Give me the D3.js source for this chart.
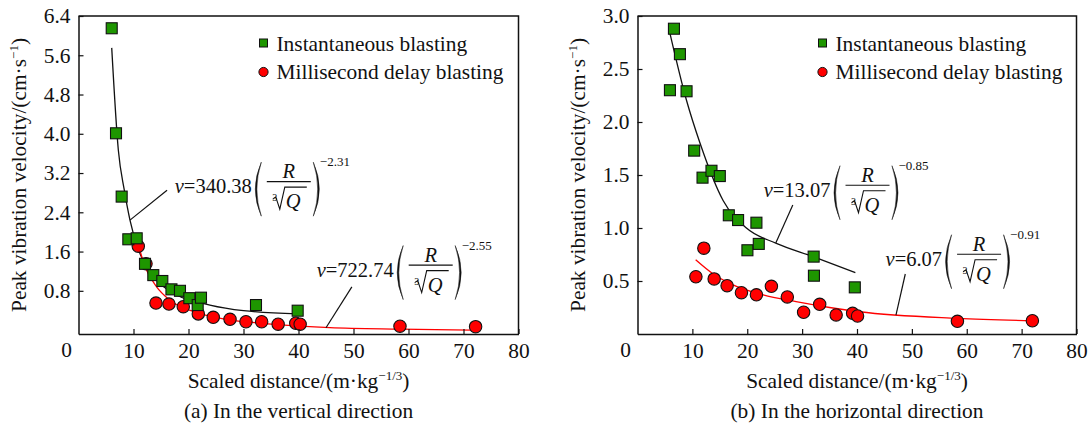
<!DOCTYPE html>
<html>
<head>
<meta charset="utf-8">
<script src="https://cdn.jsdelivr.net/npm/d3@7"></script>
</head>
<body style="margin:0;background:#fff">
<svg id="chart" width="1088" height="428" font-family="Liberation Serif"></svg>
<script>
// tick labels
const xTicks = [10, 20, 30, 40, 50, 60, 70, 80]
const yTicksA = [0.8, 1.6, 2.4, 3.2, 4.0, 4.8, 5.6, 6.4]
const yTicksB = [0.5, 1.0, 1.5, 2.0, 2.5, 3.0]

// (a) vertical direction: [scaled distance, peak velocity]
const instA = [[6.04, 6.15], [6.82, 4.01], [7.85, 2.72], [9.06, 1.85], [10.58, 1.87], [12.09, 1.35],
  [13.6, 1.12], [15.24, 1.0], [16.9, 0.83], [18.45, 0.80], [20.15, 0.65], [21.67, 0.51],
  [22.27, 0.66], [32.27, 0.51], [39.85, 0.395]]
const msA = [[10.87, 1.71], [12.27, 1.35], [14.09, 0.55], [16.45, 0.53], [19.05, 0.476], [21.78, 0.33],
  [24.5, 0.26], [27.55, 0.22], [30.45, 0.17], [33.3, 0.17], [36.3, 0.12], [39.5, 0.14],
  [40.3, 0.12], [58.45, 0.08], [72.2, 0.07]]
const fitInstA = [[6.04, 5.75], [7.24, 3.67], [8.33, 2.85], [9.36, 2.24], [10.7, 1.70], [12.7, 1.22],
  [14.8, 0.95], [17.85, 0.715], [23.9, 0.51], [30, 0.395], [39.85, 0.33]]
const fitMsA = [[10.6, 1.85], [12.1, 1.29], [14.2, 0.88], [16.6, 0.61], [20.9, 0.375], [26.9, 0.22],
  [33, 0.14], [40.3, 0.08], [45.7, 0.05], [58.5, 0.02], [71.7, 0.0]]

// (b) horizontal direction
const instB = [[5.91, 2.30], [6.64, 2.88], [7.73, 2.64], [8.94, 2.29], [10.33, 1.73], [11.85, 1.475],
  [13.48, 1.54], [15.0, 1.49], [16.64, 1.12], [18.33, 1.075], [20.03, 0.79], [21.67, 1.05],
  [22.1, 0.85], [32.1, 0.73], [32.15, 0.55], [39.6, 0.44]]
const msB = [[10.64, 0.54], [12.09, 0.81], [13.97, 0.52], [16.33, 0.456], [18.94, 0.39], [21.67, 0.37],
  [24.4, 0.45], [27.3, 0.35], [30.27, 0.205], [33.2, 0.28], [36.2, 0.18], [39.2, 0.195],
  [40.1, 0.17], [58.3, 0.12], [71.96, 0.125]]
const fitInstB = [[5.9, 2.84], [8.9, 2.21], [11.4, 1.80], [15.6, 1.26], [19.85, 1.0], [25.3, 0.855],
  [32, 0.73], [39.7, 0.58]]
const fitMsB = [[10.6, 0.70], [13.8, 0.566], [16.8, 0.478], [22.9, 0.368], [28.9, 0.305], [35, 0.25],
  [40.45, 0.21], [58.3, 0.148], [71.9, 0.125]]

// fitted equations: [coefficient, exponent, label anchor (x, v), leader from (x, v), leader to (x, v)]
const eqA = [["340.38", "\u22122.31", [17.5, 2.79], [9.36, 2.24], [16.1, 2.85]],
             ["722.74", "\u22122.55", [43.3, 1.09], [45.0, 0.048], [49.7, 0.88]]]
const eqB = [["13.07", "\u22120.85", [23.0, 1.295], [25.2, 0.858], [28.3, 1.217]],
             ["6.07", "\u22120.91", [45.2, 0.644], [47.1, 0.179], [48.8, 0.566]]]

const seriesNames = ["Instantaneous blasting", "Millisecond delay blasting"]
const captions = ["(a) In the vertical direction", "(b) In the horizontal direction"]

const FONT = "Liberation Serif"
const FS = 21.4
const GREEN = "#1e9600"
const RED = "#ff0000"
const svg = d3.select("#chart")

function txt(g, x, y, size) {
    return g.append("text").attr("x", x).attr("y", y)
        .attr("font-family", FONT).attr("font-size", size).attr("fill", "#111")
}

function drawPanel(o) {
    const g = svg.append("g")
    const x = d3.scaleLinear().domain([0, 80]).range([o.left, o.right])
    const y = d3.scaleLinear().domain(o.yDomain).range([334, 16])

    const line = d3.line().x(d => x(d[0])).y(d => y(d[1])).curve(d3.curveMonotoneX)

    g.append("path").datum(o.fitInst).attr("d", line)
        .attr("fill", "none").attr("stroke", "#111").attr("stroke-width", 1.3)
    g.append("path").datum(o.fitMs).attr("d", line)
        .attr("fill", "none").attr("stroke", RED).attr("stroke-width", 1.3)

    g.selectAll("circle.ms").data(o.ms).enter().append("circle")
        .attr("cx", d => x(d[0])).attr("cy", d => y(d[1])).attr("r", 6.2)
        .attr("fill", RED).attr("stroke", "#111").attr("stroke-width", 1.1)
    g.selectAll("rect.inst").data(o.inst).enter().append("rect")
        .attr("x", d => x(d[0]) - 5.5).attr("y", d => y(d[1]) - 5.5)
        .attr("width", 11).attr("height", 11)
        .attr("fill", GREEN).attr("stroke", "#111").attr("stroke-width", 1.1)

    // frame
    g.append("path")
        .attr("d", `M${o.left},16H${o.right}V334`)
        .attr("fill", "none").attr("stroke", "#111").attr("stroke-width", 1.5)

    const xAxis = g.append("g").attr("transform", "translate(0,334)")
        .call(d3.axisBottom(x).tickValues(xTicks).tickSizeInner(-5).tickSizeOuter(0).tickPadding(9))
    const yAxis = g.append("g").attr("transform", `translate(${o.left},0)`)
        .call(d3.axisLeft(y).tickValues(o.yTicks).tickFormat(d3.format(".1f"))
            .tickSizeInner(-5).tickSizeOuter(0).tickPadding(8))
    for (const ax of [xAxis, yAxis]) {
        ax.attr("font-family", FONT).attr("font-size", FS)
        ax.select(".domain").attr("stroke", "#111").attr("stroke-width", 1.5)
        ax.selectAll(".tick line").attr("stroke", "#111").attr("stroke-width", 1.2)
        ax.selectAll("text").attr("fill", "#111")
    }
    // shared origin label
    txt(g, o.left - 12, 357, FS).attr("text-anchor", "middle").text("0")

    // axis titles
    const yt = g.append("text")
        .attr("transform", `translate(${o.left - 53},175) rotate(-90)`)
        .attr("font-family", FONT).attr("fill", "#111")
        .attr("text-anchor", "middle").attr("font-size", FS)
    yt.append("tspan").text("Peak vibration velocity/(cm\u00b7s")
    yt.append("tspan").attr("font-size", 13).attr("dy", -8).text("\u22121")
    yt.append("tspan").attr("dy", 8).text(")")

    const cx = (o.left + o.right) / 2
    const xt = txt(g, cx, 388, FS).attr("text-anchor", "middle")
    xt.append("tspan").text("Scaled distance/(m\u00b7kg")
    xt.append("tspan").attr("font-size", 13).attr("dy", -8).text("\u22121/3")
    xt.append("tspan").attr("dy", 8).text(")")

    txt(g, cx, 418, FS).attr("text-anchor", "middle").text(o.caption)

    // legend
    const lg = g.append("g").attr("transform", `translate(${o.left + 185},0)`)
    lg.append("rect").attr("x", -4).attr("y", 39).attr("width", 8).attr("height", 8)
        .attr("fill", GREEN).attr("stroke", "#111").attr("stroke-width", 1)
    lg.append("circle").attr("cx", 0).attr("cy", 72).attr("r", 4.6)
        .attr("fill", RED).attr("stroke", "#111").attr("stroke-width", 1)
    txt(lg, 13, 51, FS).text(seriesNames[0])
    txt(lg, 13, 79, FS).text(seriesNames[1])

    // equations with leaders
    o.eqs.forEach(e => {
        g.append("line")
            .attr("x1", x(e[3][0])).attr("y1", y(e[3][1]))
            .attr("x2", x(e[4][0])).attr("y2", y(e[4][1]))
            .attr("stroke", "#111").attr("stroke-width", 1.2)
        drawEquation(g, x(e[2][0]), y(e[2][1]), e[0], e[1])
    })
}

function drawEquation(g, x0, b, coef, expo) {
    const t = txt(g, x0, b, 20.5)
    t.append("tspan").attr("font-style", "italic").text("v")
    t.append("tspan").text("=" + coef)
    const E = x0 + t.node().getComputedTextLength()

    // tall parentheses as thin crescents
    const paren = (xa, xb) => {
        const s = Math.sign(xb - xa)
        const co = xa - (xb - xa) * 0.6
        const ci = co + 3.2 * s
        return `M${xb},${b - 31}Q${co},${b - 4} ${xb},${b + 23}Q${ci},${b - 4} ${xb},${b - 31}Z`
    }
    g.append("path").attr("d", paren(E + 2, E + 9.5))
        .attr("fill", "#111").attr("stroke", "#111").attr("stroke-width", 0.5)
    g.append("path").attr("d", paren(E + 69, E + 61.5))
        .attr("fill", "#111").attr("stroke", "#111").attr("stroke-width", 0.5)

    const C = E + 37
    txt(g, C, b - 15, 20.5).attr("text-anchor", "middle").attr("font-style", "italic").text("R")
    g.append("line").attr("x1", C - 22).attr("x2", C + 22).attr("y1", b - 11.5).attr("y2", b - 11.5)
        .attr("stroke", "#111").attr("stroke-width", 1.1)
    txt(g, C - 14, b + 8, 10).attr("text-anchor", "middle").text("3")
    g.append("path")
        .attr("d", `M${C - 16},${b + 6}L${C - 13},${b + 4}L${C - 9},${b + 16}L${C - 4},${b - 6}H${C + 18}`)
        .attr("fill", "none").attr("stroke", "#111").attr("stroke-width", 1.1)
    txt(g, C - 3, b + 15, 20.5).attr("font-style", "italic").text("Q")
    txt(g, E + 68, b - 27, 13).text(expo)
}

drawPanel({
    left: 78.5, right: 518.5, yDomain: [-0.08, 6.4], yTicks: yTicksA,
    inst: instA, ms: msA, fitInst: fitInstA, fitMs: fitMsA, eqs: eqA, caption: captions[0]
})
drawPanel({
    left: 637.5, right: 1076.5, yDomain: [0, 3.0], yTicks: yTicksB,
    inst: instB, ms: msB, fitInst: fitInstB, fitMs: fitMsB, eqs: eqB, caption: captions[1]
})
</script>
</body>
</html>
